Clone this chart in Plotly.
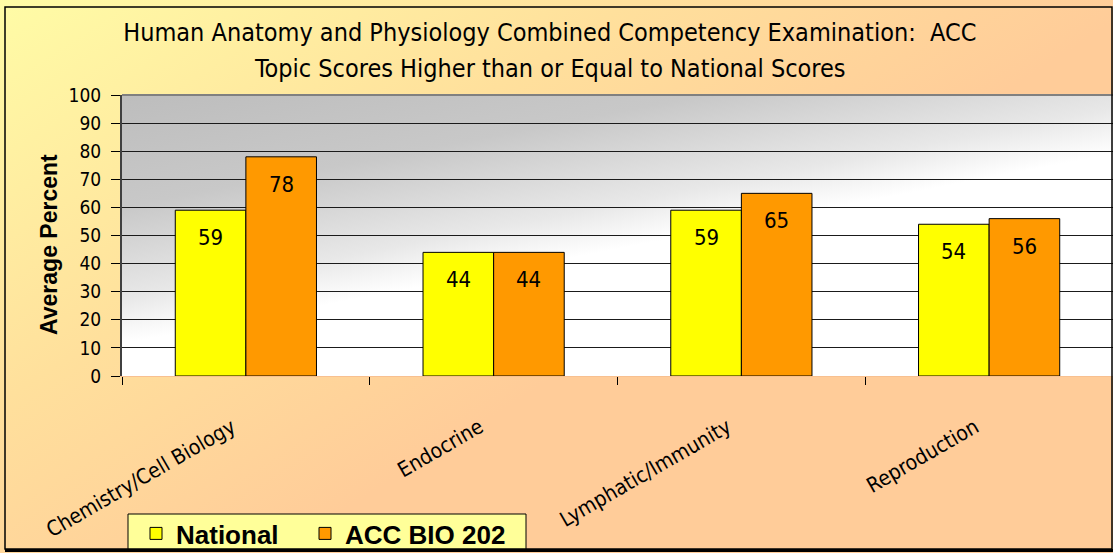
import base64
import plotly.graph_objects as go

# ---- data ----
categories = ["Chemistry/Cell Biology", "Endocrine", "Lymphatic/Immunity", "Reproduction"]
national = [59, 44, 59, 54]
acc_bio_202 = [78, 44, 65, 56]
series_names = ["National", "ACC BIO 202"]
y_ticks = [0, 10, 20, 30, 40, 50, 60, 70, 80, 90, 100]
y_title = "Average Percent"
title_lines = ["Human Anatomy and Physiology Combined Competency Examination:  ACC",
               "Topic Scores Higher than or Equal to National Scores"]

# ---- style / layout constants ----
W, H = 1113, 553
ML, MR, MT, MB = 122, 0, 95, 177
PW, PH = W - ML - MR, H - MT - MB
BARGAP = 0.43
COND = "DejaVu Sans Condensed, DejaVu Sans, sans-serif"
ARIAL = "Liberation Sans, Arial, sans-serif"


def svg_uri(svg):
    return "data:image/svg+xml;base64," + base64.b64encode(svg.encode()).decode()


paper_svg = f"""<svg xmlns='http://www.w3.org/2000/svg' width='{W}' height='{H}' viewBox='0 0 {W} {H}' preserveAspectRatio='none'>
<defs><linearGradient id='g' gradientUnits='userSpaceOnUse' x1='0' y1='0' x2='330' y2='520'>
<stop offset='0' stop-color='#FFFCA6'/><stop offset='0.55' stop-color='#FFE09C'/><stop offset='1' stop-color='#FFCC99'/>
</linearGradient></defs><rect x='0' y='0' width='{W}' height='{H}' fill='url(#g)'/></svg>"""

plot_svg = f"""<svg xmlns='http://www.w3.org/2000/svg' width='{PW}' height='{PH}' viewBox='0 0 {PW} {PH}' preserveAspectRatio='none'>
<defs><linearGradient id='p' gradientUnits='userSpaceOnUse' x1='0' y1='0' x2='46' y2='240'>
<stop offset='0' stop-color='#BDBDBD'/><stop offset='0.45' stop-color='#C8C8C8'/><stop offset='0.82' stop-color='#E8E8E8'/><stop offset='1' stop-color='#FFFFFF'/>
</linearGradient></defs><rect x='0' y='0' width='{PW}' height='{PH}' fill='url(#p)'/></svg>"""


def px_x(px):
    return (px - ML) / PW


def px_y(py):
    return (H - MB - py) / PH


fig = go.Figure()
fig.add_trace(go.Bar(name=series_names[0], x=categories, y=national, legend="legend",
                     marker=dict(color="#FFFF00", line=dict(color="#000000", width=1))))
fig.add_trace(go.Bar(name=series_names[1], x=categories, y=acc_bio_202, legend="legend2",
                     marker=dict(color="#FF9900", line=dict(color="#000000", width=1))))

# data labels inside the bars, near the top
offset = (1 - BARGAP) / 4 * (PW / len(categories))
for vals, sign in ((national, -1), (acc_bio_202, 1)):
    for c, v in zip(categories, vals):
        fig.add_annotation(x=c, y=v, xref="x", yref="y", text=str(v), showarrow=False,
                           xshift=sign * offset, yshift=-13, yanchor="top",
                           font=dict(family=COND, size=22, color="#000000"))

# second title line
fig.add_annotation(text=title_lines[1], xref="paper", yref="paper",
                   x=px_x(550), y=px_y(68), xanchor="center", yanchor="middle",
                   showarrow=False, font=dict(family=COND, size=25, color="#000000"))

# y-axis title
fig.add_annotation(text=y_title, xref="paper", yref="paper", textangle=-90,
                   x=px_x(49), y=px_y(245), xanchor="center", yanchor="middle",
                   showarrow=False,
                   font=dict(family=ARIAL, size=23, color="#000000", weight="bold"))

legend_common = dict(orientation="h", xref="container", yref="container",
                     xanchor="left", yanchor="top",
                     bgcolor="rgba(0,0,0,0)", borderwidth=0,
                     font=dict(family=ARIAL, size=26, color="#000000", weight="bold"),
                     itemwidth=30)

fig.update_layout(
    width=W, height=H, autosize=False,
    margin=dict(l=ML, r=MR, t=MT, b=MB, pad=0, autoexpand=False),
    paper_bgcolor="#FFFFFF", plot_bgcolor="rgba(0,0,0,0)",
    barmode="group", bargap=BARGAP, bargroupgap=0,
    title=dict(text=title_lines[0], x=0.494, xanchor="center",
               y=1 - 32 / H, yanchor="middle",
               font=dict(family=COND, size=25, color="#000000")),
    showlegend=True,
    legend=dict(legend_common, x=136 / W, y=1 - 510 / H),
    legend2=dict(legend_common, x=305 / W, y=1 - 510 / H),
    images=[
        dict(source=svg_uri(paper_svg), xref="paper", yref="paper",
             x=px_x(0), y=px_y(0), sizex=W / PW, sizey=H / PH,
             xanchor="left", yanchor="top", sizing="stretch", layer="below"),
        dict(source=svg_uri(plot_svg), xref="paper", yref="paper",
             x=0, y=1, sizex=1, sizey=1,
             xanchor="left", yanchor="top", sizing="stretch", layer="below"),
    ],
    shapes=[
        # legend box
        dict(type="rect", xref="paper", yref="paper",
             x0=px_x(128), x1=px_x(526), y0=px_y(550), y1=px_y(514),
             line=dict(color="#000000", width=1), fillcolor="#FFFF99", layer="above"),
        # chart frame
        dict(type="rect", xref="paper", yref="paper",
             x0=px_x(5), x1=px_x(1112), y0=px_y(549), y1=px_y(7),
             line=dict(color="#000000", width=1.5), fillcolor="rgba(0,0,0,0)", layer="above"),
        dict(type="line", xref="paper", yref="paper",
             x0=px_x(5), x1=px_x(1113), y0=px_y(550.5), y1=px_y(550.5),
             line=dict(color="#000000", width=3), layer="above"),
        dict(type="line", xref="paper", yref="paper",
             x0=0, x1=1, y0=1, y1=1,
             line=dict(color="#808080", width=2), layer="below"),
    ],
)

fig.update_yaxes(range=[0, 100], tickvals=y_ticks, showgrid=True, gridcolor="#1A1A1A", gridwidth=1,
                 zeroline=False, showline=True, linecolor="#404040", linewidth=2,
                 ticks="outside", ticklen=9, tickcolor="#000000", tickwidth=1,
                 ticklabelstandoff=6, automargin=False,
                 tickfont=dict(family=COND, size=19, color="#000000"))
fig.update_xaxes(type="category", tickson="boundaries", ticks="outside", ticklen=8,
                 tickcolor="#000000", tickwidth=1, showgrid=False, zeroline=False,
                 showline=True, linecolor="#F8C090", linewidth=1, automargin=False,
                 tickangle=-30, ticklabelstandoff=30, ticklabelshift=-14,
                 tickfont=dict(family=COND, size=21, color="#000000"))

fig.write_html("out.html", config={"displayModeBar": False},
               post_script="document.body.style.margin='0px';")
